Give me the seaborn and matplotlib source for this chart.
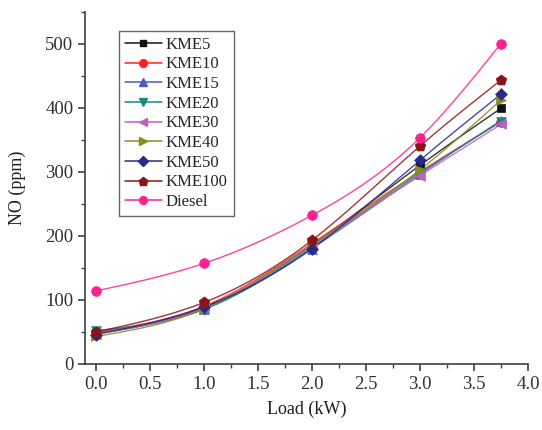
import numpy as np
import pandas as pd
import matplotlib
matplotlib.use("Agg")
import matplotlib.pyplot as plt
from matplotlib.lines import Line2D
from matplotlib.ticker import MultipleLocator
import seaborn as sns

load = [0.0, 1.0, 2.0, 3.0, 3.75]
series_names = ["KME5", "KME10", "KME15", "KME20", "KME30", "KME40", "KME50", "KME100", "Diesel"]
kme5 = [48, 88, 185, 310, 399]
kme10 = [50, 90, 188, 300, 378]
kme15 = [47, 86, 180, 296, 380]
kme20 = [52, 85, 182, 298, 378]
kme30 = [48, 87, 184, 294, 374]
kme40 = [43, 86, 186, 303, 412]
kme50 = [46, 89, 180, 318, 421]
kme100 = [50, 96, 193, 340, 443]
diesel = [114, 157, 232, 353, 500]
values = [kme5, kme10, kme15, kme20, kme30, kme40, kme50, kme100, diesel]

colors = ["#111111", "#FF2020", "#4A5CC0", "#1A8A80", "#C060C0", "#8A8A20", "#2A2A8A", "#8A1515", "#FF2090"]
markers = ["s", "o", "^", "v", "<", ">", "D", "p", "o"]
msizes = [6, 7, 7, 7, 7, 7, 6, 8, 7]


def natural_spline(x, y, n=200):
    x = np.asarray(x, float)
    y = np.asarray(y, float)
    k = len(x)
    h = np.diff(x)
    A = np.zeros((k, k))
    b = np.zeros(k)
    A[0, 0] = 1
    A[-1, -1] = 1
    for i in range(1, k - 1):
        A[i, i - 1] = h[i - 1]
        A[i, i] = 2 * (h[i - 1] + h[i])
        A[i, i + 1] = h[i]
        b[i] = 6 * ((y[i + 1] - y[i]) / h[i] - (y[i] - y[i - 1]) / h[i - 1])
    M = np.linalg.solve(A, b)
    xs = np.linspace(x[0], x[-1], n)
    ys = np.empty_like(xs)
    for j, xv in enumerate(xs):
        i = min(np.searchsorted(x, xv, side="right") - 1, k - 2)
        t1 = x[i + 1] - xv
        t0 = xv - x[i]
        ys[j] = (M[i] * t1 ** 3 / (6 * h[i]) + M[i + 1] * t0 ** 3 / (6 * h[i])
                 + (y[i] / h[i] - M[i] * h[i] / 6) * t1
                 + (y[i + 1] / h[i] - M[i + 1] * h[i] / 6) * t0)
    return xs, ys


sns.set_theme(style="ticks")
plt.rcParams["font.family"] = ["Liberation Serif", "DejaVu Serif"]

fig = plt.figure(figsize=(5.42, 4.3), dpi=100)
ax = fig.add_axes([0.157, 0.1535, 0.817, 0.8195])

rows = []
pts = []
for name, vals in zip(series_names, values):
    xs, ys = natural_spline(load, vals)
    for a, b in zip(xs, ys):
        rows.append((name, a, b))
    for a, b in zip(load, vals):
        pts.append((name, a, b))
curve = pd.DataFrame(rows, columns=["series", "load", "no"])
points = pd.DataFrame(pts, columns=["series", "load", "no"])
palette = dict(zip(series_names, colors))

sns.lineplot(data=curve, x="load", y="no", hue="series", palette=palette,
             hue_order=series_names, linewidth=1.0, alpha=0.85, legend=False, ax=ax, sort=False)
for name, m, ms in zip(series_names, markers, msizes):
    sub = points[points["series"] == name]
    sns.scatterplot(data=sub, x="load", y="no", color=palette[name], marker=m,
                    s=ms ** 2, edgecolor=palette[name], linewidth=0.5, legend=False, ax=ax, zorder=3)

ax.set_xlim(-0.1, 4.0)
ax.set_ylim(0, 550)
ax.xaxis.set_minor_locator(MultipleLocator(0.25))
ax.yaxis.set_minor_locator(MultipleLocator(50))
ax.set_xticks(np.arange(0, 4.01, 0.5))
ax.set_xticklabels([f"{v:.1f}" for v in np.arange(0, 4.01, 0.5)])
ax.set_yticks(np.arange(0, 501, 100))

spine_c = "#404040"
for s in ["top", "right"]:
    ax.spines[s].set_visible(False)
for s in ["left", "bottom"]:
    ax.spines[s].set_color(spine_c)
    ax.spines[s].set_linewidth(1.2)
ax.tick_params(which="major", direction="out", length=5, width=1.2, color=spine_c,
               labelsize=13.5, labelcolor="#303030")
ax.tick_params(which="minor", direction="out", length=3, width=1.0, color=spine_c)

ax.set_xlabel("Load (kW)", fontsize=13, color="#202020", labelpad=6)
ax.set_ylabel("NO (ppm)", fontsize=13, color="#202020", labelpad=14)

handles = [Line2D([0], [0], color=c, marker=m, markersize=ms * 0.8, linewidth=1.1,
                  markeredgecolor=c) for c, m, ms in zip(colors, markers, msizes)]
leg = ax.legend(handles, series_names, loc="upper left", bbox_to_anchor=(0.077, 0.945),
                fontsize=12, frameon=True, fancybox=False, handlelength=2.2,
                labelspacing=0.22, borderpad=0.35, handletextpad=0.25, borderaxespad=0)
leg.get_frame().set_edgecolor("#404040")
leg.get_frame().set_linewidth(1.0)

fig.savefig("out.png", dpi=100)
